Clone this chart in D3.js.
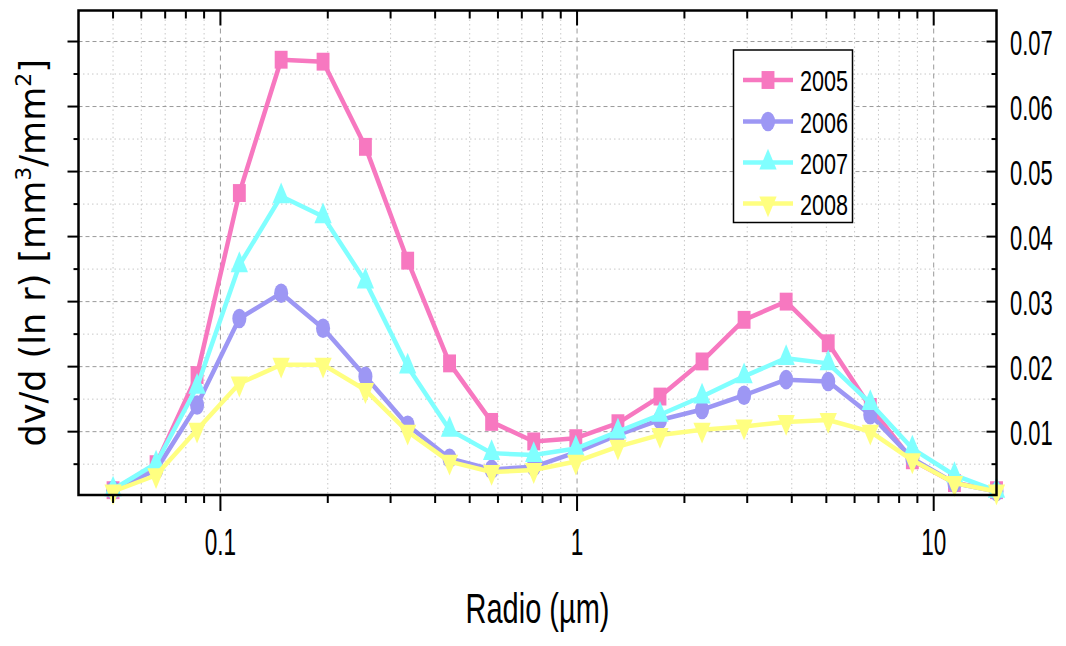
<!DOCTYPE html>
<html><head><meta charset="utf-8">
<script src="https://cdn.jsdelivr.net/npm/d3@7"></script>
<style>body{margin:0;background:#fff}</style>
</head><body><svg id="c" width="1066" height="646"></svg>
<script>
// ---- data ----
const radii = [0.050,0.066,0.086,0.113,0.148,0.194,0.255,0.335,0.439,0.576,0.756,0.992,1.302,1.708,2.241,2.940,3.857,5.061,6.641,8.713,11.432,15.000];
const years = ["2005","2006","2007","2008"];
const v2005 = [0.0010,0.0050,0.0187,0.0467,0.0672,0.0669,0.0538,0.0363,0.0205,0.0115,0.0085,0.0090,0.0113,0.0154,0.0208,0.0272,0.0300,0.0236,0.0138,0.0056,0.0021,0.0010];
const v2006 = [0.0010,0.0041,0.0141,0.0274,0.0313,0.0259,0.0185,0.0110,0.0059,0.0042,0.0046,0.0068,0.0095,0.0118,0.0134,0.0156,0.0180,0.0177,0.0126,0.0059,0.0021,0.0008];
const v2007 = [0.0011,0.0051,0.0169,0.0356,0.0462,0.0431,0.0331,0.0200,0.0103,0.0067,0.0064,0.0074,0.0100,0.0126,0.0154,0.0185,0.0213,0.0205,0.0144,0.0074,0.0033,0.0009];
const v2008 = [0.0008,0.0033,0.0103,0.0174,0.0203,0.0203,0.0164,0.0100,0.0054,0.0038,0.0041,0.0054,0.0077,0.0095,0.0103,0.0108,0.0115,0.0118,0.0100,0.0056,0.0021,0.0008];
const seriesValues = [v2005, v2006, v2007, v2008];
const colors = ["#F778C0","#9D97F4","#80FFFF","#FFFF80"];
const shapes = ["square","circle","triangle","triangleDown"];
const xMajor = [0.1, 1, 10];
const xMinor = [0.05,0.06,0.07,0.08,0.09,0.2,0.3,0.4,0.5,0.6,0.7,0.8,0.9,2,3,4,5,6,7,8,9];
const yMajor = [0.01,0.02,0.03,0.04,0.05,0.06,0.07];
const yMinor = [0.005,0.015,0.025,0.035,0.045,0.055,0.065];
const xTickLabels = ["0.1","1","10"];
const yTickLabels = ["0.01","0.02","0.03","0.04","0.05","0.06","0.07"];

// ---- layout ----
const L = 78.5, R = 996.5, T = 10.5, B = 495;
const svg = d3.select("#c");
const x = d3.scaleLog().domain([0.04, 15]).range([L, R]);
const y = d3.scaleLinear().domain([0.00026, 0.07477]).range([B, T]);
const FONT = "Liberation Sans, Arial, sans-serif";

// grid
const grid = svg.append("g");
grid.selectAll(".gxm").data(xMinor).join("line")
  .attr("x1", d=>x(d)).attr("x2", d=>x(d)).attr("y1", T).attr("y2", B)
  .attr("stroke", "#c8c8c8").attr("stroke-width", 1).attr("stroke-dasharray", "1.5,3");
grid.selectAll(".gym").data(yMinor).join("line")
  .attr("x1", L).attr("x2", R).attr("y1", d=>y(d)).attr("y2", d=>y(d))
  .attr("stroke", "#c8c8c8").attr("stroke-width", 1).attr("stroke-dasharray", "1.5,3");
grid.selectAll(".gxM").data(xMajor).join("line")
  .attr("x1", d=>x(d)).attr("x2", d=>x(d)).attr("y1", T).attr("y2", B)
  .attr("stroke", "#999").attr("stroke-width", 1).attr("stroke-dasharray", "5,4");
grid.selectAll(".gyM").data(yMajor).join("line")
  .attr("x1", L).attr("x2", R).attr("y1", d=>y(d)).attr("y2", d=>y(d))
  .attr("stroke", "#999").attr("stroke-width", 1).attr("stroke-dasharray", "4,3");

// series
const sx = 0.72;
function markerPath(shape){
  if (shape==="square") return d3.symbol().type(d3.symbolSquare).size(320)();
  if (shape==="circle") return d3.symbol().type(d3.symbolCircle).size(300)();
  return d3.symbol().type(d3.symbolTriangle).size(250)();
}
const line = d3.line().x((d,i)=>x(radii[i])).y(d=>y(d));
seriesValues.forEach((vals, si) => {
  const g = svg.append("g");
  g.append("path").attr("d", line(vals)).attr("fill","none")
    .attr("stroke", colors[si]).attr("stroke-width", 4.5).attr("stroke-linejoin","round");
  g.selectAll("path.m").data(vals).join("path").attr("class","m")
    .attr("d", markerPath(shapes[si]))
    .attr("transform", (d,i)=>`translate(${x(radii[i])},${y(d)}) scale(${sx},1)` + (shapes[si]==="triangleDown" ? " rotate(180)" : ""))
    .attr("fill", colors[si]);
});

// axes
const ax = svg.append("g").attr("stroke","#000");
// frame
ax.append("rect").attr("x", L).attr("y", T).attr("width", R-L).attr("height", B-T)
  .attr("fill","none").attr("stroke","#000").attr("stroke-width", 2.5);
// bottom ticks (outward)
ax.selectAll(".bM").data(xMajor).join("line").attr("x1",d=>x(d)).attr("x2",d=>x(d)).attr("y1",B).attr("y2",B+16).attr("stroke-width",2);
ax.selectAll(".bm").data(xMinor).join("line").attr("x1",d=>x(d)).attr("x2",d=>x(d)).attr("y1",B).attr("y2",B+8).attr("stroke-width",2);
// top ticks (inward)
ax.selectAll(".tM").data(xMajor).join("line").attr("x1",d=>x(d)).attr("x2",d=>x(d)).attr("y1",T).attr("y2",T+15).attr("stroke-width",2);
ax.selectAll(".tm").data(xMinor).join("line").attr("x1",d=>x(d)).attr("x2",d=>x(d)).attr("y1",T).attr("y2",T+8).attr("stroke-width",2);
// left ticks (outward)
ax.selectAll(".lM").data(yMajor).join("line").attr("x1",L-11).attr("x2",L).attr("y1",d=>y(d)).attr("y2",d=>y(d)).attr("stroke-width",2);
ax.selectAll(".lm").data(yMinor).join("line").attr("x1",L-5).attr("x2",L).attr("y1",d=>y(d)).attr("y2",d=>y(d)).attr("stroke-width",2);
// right ticks (inward)
ax.selectAll(".rM").data(yMajor).join("line").attr("x1",R-10).attr("x2",R).attr("y1",d=>y(d)).attr("y2",d=>y(d)).attr("stroke-width",2);
ax.selectAll(".rm").data(yMinor).join("line").attr("x1",R-5).attr("x2",R).attr("y1",d=>y(d)).attr("y2",d=>y(d)).attr("stroke-width",2);

// tick labels
const txt = svg.append("g").attr("font-family", FONT).attr("fill","#000");
txt.selectAll(".xl").data(xMajor).join("text")
  .attr("transform", d=>`translate(${x(d)},555) scale(0.61,1)`)
  .attr("text-anchor","middle").attr("font-size", 37).text((d,i)=>xTickLabels[i]);
txt.selectAll(".yl").data(yMajor).join("text")
  .attr("transform", d=>`translate(1010,${y(d)+13.5}) scale(0.61,1)`)
  .attr("text-anchor","start").attr("font-size", 36).text((d,i)=>yTickLabels[i]);

// axis titles
txt.append("text").attr("transform", `translate(${(L+R)/2},623) scale(0.69,1)`)
  .attr("text-anchor","middle").attr("font-size", 42).text("Radio (\u00B5m)");
const yt = svg.append("text").attr("font-family","DejaVu Sans, Verdana, sans-serif")
  .attr("font-size", 35).attr("text-anchor","middle")
  .attr("transform", `translate(45,${(T+B)/2}) rotate(-90)`);
yt.append("tspan").text("dv/d (ln r) [mm");
yt.append("tspan").attr("font-size", 22).attr("dy", -14).text("3");
yt.append("tspan").attr("dy", 14).text("/mm");
yt.append("tspan").attr("font-size", 22).attr("dy", -14).text("2");
yt.append("tspan").attr("dy", 14).text("]");

// legend
const lg = svg.append("g");
lg.append("rect").attr("x", 733.5).attr("y", 50).attr("width", 119).attr("height", 172.5)
  .attr("fill","#fff").attr("stroke","#000").attr("stroke-width", 1.5);
const legY = [80, 121.5, 162.5, 203.5];
years.forEach((yr, i) => {
  lg.append("line").attr("x1", 743).attr("x2", 793).attr("y1", legY[i]).attr("y2", legY[i])
    .attr("stroke", colors[i]).attr("stroke-width", 4.5);
  lg.append("path").attr("d", markerPath(shapes[i]))
    .attr("transform", `translate(768,${legY[i]}) scale(${sx},1)` + (shapes[i]==="triangleDown" ? " rotate(180)" : ""))
    .attr("fill", colors[i]);
  lg.append("text").attr("font-family", FONT).attr("font-size", 30)
    .attr("transform", `translate(800,${legY[i]+11}) scale(0.72,1)`).text(yr);
});
</script></body></html>
